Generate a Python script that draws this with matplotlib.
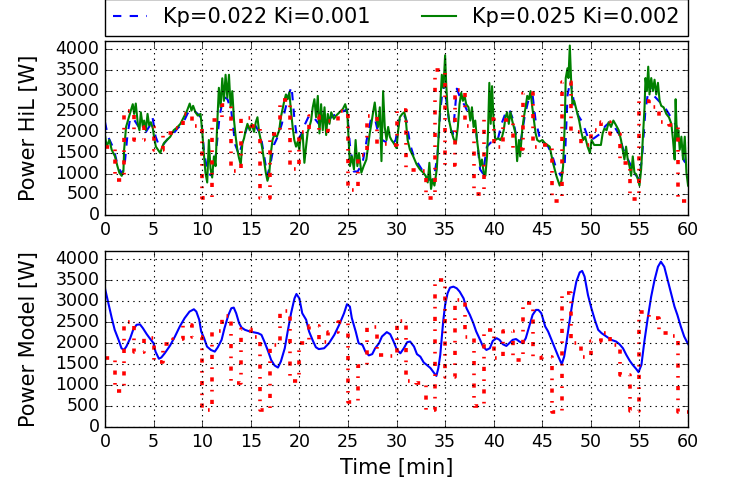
import matplotlib
matplotlib.use('Agg')
import matplotlib.pyplot as plt
import numpy as np

plt.style.use('classic')
plt.rcParams['lines.scale_dashes'] = False

# reference power demand, one level per minute (step signal)
ref_t = np.arange(0, 61)
ref_p = [1650, 850, 2500, 1800, 2130, 1560, 1970, 2100, 2440, 2150,
         400, 2300, 2650, 1060, 2330, 2150, 400, 1950, 2780, 1100,
         2000, 2400, 2030, 2270, 2500, 600, 1450, 2380, 1720, 1700,
         2540, 1090, 1060, 400, 3500, 1200, 3020, 2150, 500, 2320,
         1650, 2300, 1600, 2950, 1650, 1680, 350, 3200, 2000, 1680,
         2050, 2250, 1950, 1250, 380, 2750, 2600, 2250, 2180, 350, 350]

# HiL run, Kp=0.022 Ki=0.001
hil1_t = [0, 0.3, 0.7, 1.0, 1.3, 1.7, 2.0, 2.3, 2.6, 3.0, 3.4, 3.8, 4.2, 4.6, 4.9,
          5.2, 5.6, 6.0, 6.5, 7.0, 7.5, 8.0, 8.5, 9.0, 9.5, 9.9, 10.2, 10.6, 11.0,
          11.4, 11.8, 12.2, 12.6, 13.0, 13.4, 13.8, 14.2, 14.6, 15.0, 15.5, 16.0,
          16.4, 16.7, 17.0, 17.4, 17.8, 18.2, 18.6, 18.9, 19.2, 19.5, 19.8, 20.2,
          20.6, 21.0, 21.5, 22.0, 22.5, 23.0, 23.5, 24.0, 24.5, 24.9, 25.2, 25.6,
          26.0, 26.5, 27.0, 27.4, 27.8, 28.2, 28.6, 29.0, 29.5, 29.9, 30.3, 30.7,
          31.0, 31.4, 31.8, 32.2, 32.6, 33.0, 33.4, 33.8, 34.2, 34.5, 34.8, 35.1,
          35.5, 35.8, 36.2, 36.6, 37.0, 37.4, 37.8, 38.2, 38.6, 38.9, 39.3, 39.7,
          40.0, 40.4, 40.8, 41.2, 41.6, 42.0, 42.4, 42.8, 43.2, 43.6, 44.0, 44.3,
          44.7, 45.2, 45.6, 46.0, 46.4, 46.9, 47.3, 47.6, 47.9, 48.3, 48.7, 49.1,
          49.5, 49.8, 50.3, 50.9, 51.5, 52.0, 52.5, 52.9, 53.3, 53.7, 54.1, 54.5,
          55.0, 55.3, 55.6, 56.0, 56.4, 56.8, 57.2, 57.6, 58.0, 58.4, 58.8, 59.2,
          59.6, 60.0]
hil1_p = [2250, 1900, 1700, 1500, 1200, 1000, 1150, 1900, 2350, 2300, 2150, 2100, 2000, 2150, 2350,
          1900, 1650, 1700, 1850, 1950, 2100, 2200, 2450, 2550, 2450, 2350, 1500, 1000, 950,
          1450, 2400, 2850, 2800, 2500, 1700, 1450, 1800, 2100, 2200, 2150, 1950,
          1400, 950, 1200, 1700, 1900, 2200, 2600, 2900, 3100, 2300, 1800, 1950,
          2200, 2400, 2350, 2200, 2250, 2300, 2400, 2450, 2500, 2550, 1700, 1050,
          1050, 1250, 1900, 2350, 2300, 1900, 1800, 1750, 1700, 1800, 2300, 2450,
          2300, 1700, 1400, 1250, 1100, 1000, 850, 850, 1400, 2500, 3150, 2800,
          2100, 1950, 3050, 2800, 2650, 2450, 2350, 2000, 1100, 1000, 1650, 1750,
          1750, 1800, 2200, 2450, 2550, 2300, 1800, 1800, 2400, 2800, 2900, 2300,
          1900, 1750, 1650, 1450, 1150, 950, 1200, 2900, 3250, 2650, 2400, 2250,
          2000, 1800, 1850, 1950, 2150, 2250, 2100, 1950, 1600, 1400, 1200, 1000,
          850, 1500, 2500, 3150, 2900, 2800, 2700, 2600, 2450, 2300, 2150, 1700,
          1300, 1200]

# HiL run, Kp=0.025 Ki=0.002
hil2_t = [0.0, 0.17, 0.45, 0.69, 1.03, 1.28, 1.48, 1.72, 1.90, 1.97, 2.17, 2.41, 2.66, 2.86,
          3.0, 3.17, 3.38, 3.55, 3.69, 3.90, 4.03, 4.21, 4.38, 4.55, 4.72, 4.93, 5.07,
          5.24, 5.45, 5.69, 5.90, 6.10, 6.38, 6.72, 7.07, 7.41, 7.76, 8.10, 8.45, 8.72,
          8.90, 9.07, 9.31, 9.55, 9.83, 10.0, 10.17, 10.34, 10.52, 10.69, 10.86, 11.03,
          11.21, 11.38, 11.55, 11.72, 11.90, 12.07, 12.24, 12.41, 12.59, 12.76, 12.93,
          13.10, 13.28, 13.45, 13.62, 13.79, 13.97, 14.14, 14.31, 14.48, 14.66, 14.90,
          15.10, 15.34, 15.52, 15.69, 15.86, 16.03, 16.21, 16.38, 16.55, 16.72, 16.90,
          17.07, 17.24, 17.41, 17.69, 17.93, 18.10, 18.28, 18.45, 18.62, 18.79, 18.97,
          19.14, 19.31, 19.48, 19.66, 19.83, 20.0,
          20.10, 20.34, 20.52, 20.69, 20.86, 21.03, 21.21, 21.38, 21.55, 21.72, 21.90,
          22.07, 22.24, 22.41, 22.59, 22.76, 22.93, 23.10, 23.28, 23.55, 23.79, 24.14,
          24.48, 24.72, 24.93, 25.07, 25.21, 25.41, 25.62, 25.79, 25.97, 26.14, 26.38,
          26.62, 26.90, 27.07, 27.24, 27.41, 27.59, 27.76, 27.93, 28.10, 28.28, 28.45,
          28.62, 28.79, 28.97, 29.14, 29.31, 29.48, 29.72, 30.0, 30.17, 30.34, 30.59,
          30.79, 30.93, 31.14, 31.38, 31.72, 32.07, 32.41, 32.76, 33.0, 33.21, 33.38,
          33.55, 33.72, 33.90, 34.14, 34.31, 34.48, 34.66, 34.83, 35.0, 35.10, 35.24,
          35.41, 35.62, 35.86, 36.10, 36.31, 36.48, 36.66, 36.83, 37.0, 37.17, 37.41,
          37.59, 37.76, 37.93, 38.10, 38.28, 38.45, 38.62, 38.79, 38.97, 39.14, 39.31,
          39.41, 39.55, 39.69, 39.83, 40.0,
          40.17, 40.45, 40.69, 40.86, 41.03, 41.21, 41.38, 41.55, 41.72, 41.90, 42.07,
          42.24, 42.41, 42.59, 42.72, 42.93, 43.10, 43.28, 43.45, 43.62, 43.79, 43.97,
          44.14, 44.31, 44.48, 44.72, 45.0, 45.28, 45.52, 45.76, 45.97, 46.10, 46.28,
          46.45, 46.62, 46.79, 46.97, 47.14, 47.31, 47.41, 47.59, 47.69, 47.83, 47.97,
          48.10, 48.28, 48.45, 48.62, 48.79, 48.97, 49.21, 49.41, 49.66, 49.90, 50.07,
          50.34, 50.69, 51.03, 51.21, 51.38, 51.62, 51.83, 52.07, 52.31, 52.59, 52.86,
          53.10, 53.28, 53.45, 53.62, 53.79, 53.97, 54.14, 54.31, 54.48, 54.66, 54.83,
          55.0, 55.17, 55.34, 55.52, 55.62, 55.76, 55.90, 56.03, 56.21, 56.38, 56.55,
          56.72, 56.90, 57.07, 57.24, 57.48, 57.76, 58.03, 58.28, 58.45, 58.62, 58.72,
          58.86, 59.00, 59.14, 59.31, 59.48, 59.66, 59.83, 60.0]
hil2_p = [1930, 1650, 1810, 1575, 1415, 1180, 1020, 945, 1060, 1575, 2125, 2320, 2520, 2675,
          2440, 2690, 2200, 2045, 2480, 2125, 2280, 2045, 2440, 2165, 2240, 2085, 1850,
          1650, 1575, 1495, 1650, 1745, 1810, 1890, 2045, 2110, 2200, 2360, 2520, 2690,
          2520, 2635, 2480, 2400, 2440, 2045, 1495, 1020, 785, 1810, 1120, 905,
          1415, 1180, 2200, 3070, 2600, 3300, 2755, 3385, 2830, 3385, 2600,
          2990, 2280, 1890, 1575, 1375, 1220, 1730, 1850, 2045, 2200, 2045,
          2200, 2005, 2240, 2360, 2005, 1810, 1575, 1300, 1020, 825, 985,
          1495, 1810, 1930, 1890, 2045, 2360, 2560, 2755, 2910, 2795, 2950,
          2520, 2125, 1810, 1650, 1770, 1575,
          1810, 1970, 1260, 1650, 2005, 2125, 2280, 2600, 2795, 2360, 2875,
          1970, 2675, 2045, 2600, 1930, 2440, 2200, 2480, 2320, 2400, 2480,
          2560, 2675, 2480, 1810, 1180, 1415, 1100, 1810, 1180, 1495, 1020,
          1180, 1340, 1650, 1970, 2200, 2480, 2715, 2360, 2125, 2600, 1300,
          2990, 2125, 1810, 2125, 1890, 1810, 1730, 1615, 2045, 2360, 2440,
          2480, 2360, 1810, 1575, 1415, 1220, 1100, 1020, 945, 785, 1260,
          630, 865, 710, 1100, 1810, 2600, 3385, 3070, 3855, 3225, 2600,
          2280, 2045, 1850, 1730, 2125, 2675, 2950, 2755, 2875, 2675, 2600,
          2280, 2600, 2125, 2280, 1810, 1495, 1180, 1340, 1020, 945, 1415,
          1970, 3190, 2200, 3110, 2200,
          1810, 1850, 1810, 1890, 2045, 2360, 2480, 2200, 2480, 2280, 2125,
          1970, 1300, 1810, 1415, 2045, 2360, 2600, 2875, 2795, 2990, 2600,
          2280, 1970, 1810, 1770, 1810, 1730, 1690, 1650, 1415, 1260, 1100,
          945, 825, 710, 825, 1180, 2200, 3305, 3540, 3305, 4090, 3225,
          2675, 2755, 2600, 2440, 2280, 2045, 1810, 1890, 1650, 1495, 1810,
          1690, 1690, 1690, 1970, 2085, 2045, 2240, 2125, 2280, 2165, 2045,
          1810, 1575, 1340, 1650, 1340, 1180, 945, 1415, 1020, 985, 865,
          710, 1100, 1810, 2600, 3305, 2990, 3580, 2910, 3305, 2990, 3265,
          2910, 3190, 2755, 2635, 2600, 2440, 2360, 2200, 1810, 1340, 2795,
          1810, 2045, 1575, 1890, 1340, 1890, 1020, 710]

# model output
model_t = [0, 0.35, 0.7, 1.0, 1.4, 1.7, 1.95, 2.2, 2.6, 2.9, 3.25, 3.6, 3.9, 4.3, 4.6,
           5.0, 5.2, 5.55, 5.8, 6.15, 6.7, 7.2, 7.7, 8.2, 8.7, 9.15, 9.4, 9.7, 9.9,
           10.2, 10.5, 10.9, 11.3, 11.6, 12.0, 12.3, 12.7, 13.0, 13.25, 13.5, 13.8,
           14.05, 14.4, 14.9, 15.2, 15.75, 16.1, 16.4, 16.8, 17.1, 17.45, 17.8, 18.1,
           18.5, 18.8, 19.15, 19.5, 19.7, 20.0, 20.3, 20.7, 21.0, 21.4, 21.7, 22.0,
           22.55, 23.05, 23.6, 24.1, 24.6, 24.9, 25.2, 25.4, 25.8, 26.1, 26.5, 26.8,
           27.15, 27.5, 27.8, 28.2, 28.5, 29.0, 29.35, 29.7, 30.05, 30.4, 30.75,
           31.1, 31.4, 31.8, 32.1, 32.45, 32.8, 33.1, 33.5, 33.8, 34.1, 34.3, 34.5,
           34.65, 34.8, 35.0, 35.25, 35.5, 35.85, 36.2, 36.5, 36.9, 37.2, 37.55,
           37.9, 38.2, 38.6, 38.9, 39.25, 39.6, 39.9, 40.3, 40.6, 40.95, 41.3, 41.6,
           41.95, 42.3, 42.65, 43.0, 43.3, 43.7, 44.0, 44.35, 44.6, 44.9, 45.3,
           45.6, 45.95, 46.3, 46.65, 47.0, 47.25, 47.5, 47.85, 48.2, 48.5, 48.85,
           49.1, 49.35, 49.7, 50.05, 50.4, 50.75, 51.1, 51.6, 52.1, 52.6, 52.95,
           53.3, 53.65, 54.0, 54.3, 54.65, 54.9, 55.2, 55.5, 55.85, 56.2, 56.55,
           56.9, 57.2, 57.55, 57.9, 58.25, 58.6, 58.9, 59.25, 59.6, 60.0]
model_p = [3310, 2950, 2600, 2320, 2080, 1880, 1840, 1920, 2120, 2320, 2440, 2450, 2360, 2215, 2120,
           2000, 1800, 1630, 1660, 1760, 1945, 2160, 2400, 2600, 2755, 2810, 2755, 2560, 2280,
           2120, 1920, 1840, 1800, 1900, 2080, 2360, 2675, 2835, 2850, 2715, 2480,
           2375, 2320, 2280, 2265, 2240, 2200, 2040, 1800, 1600, 1470, 1420, 1565,
           1880, 2280, 2715, 3070, 3175, 3070, 2715, 2560, 2280, 2055, 1905, 1860,
           1880, 2000, 2200, 2440, 2715, 2930, 2875, 2600, 2280, 2000, 1960, 1800,
           1710, 1740, 1880, 2000, 2160, 2265, 2215, 2040, 1840, 1760, 1880,
           2025, 2040, 1920, 1740, 1680, 1540, 1485, 1405, 1310, 1220, 1405, 1720,
           2120, 2515, 2915, 3190, 3325, 3350, 3310, 3230, 3070, 2835, 2675,
           2480, 2280, 2080, 1920, 1840, 1880, 2055, 2120, 2080, 1975, 1935, 2000,
           2080, 2100, 2040, 2000, 2120, 2440, 2675, 2795, 2795, 2715, 2400,
           2280, 2080, 1880, 1680, 1500, 1680, 2040, 2600, 3110, 3470, 3690,
           3725, 3590, 3150, 2835, 2560, 2320, 2240, 2160, 2080, 2040, 1975,
           1880, 1720, 1580, 1485, 1390, 1310, 1485, 2040, 2600, 3110, 3510,
           3825, 3945, 3825, 3510, 3190, 2875, 2675, 2400, 2160, 1980]

ref_style = dict(color='r', lw=2.6, linestyle=(0, (3, 6, 1.2, 6)),
                 drawstyle='steps-post')

fig = plt.figure(figsize=(7.32, 4.92), dpi=100, facecolor='white')
ax1 = fig.add_axes([0.1434, 0.563, 0.7966, 0.3537])
ax2 = fig.add_axes([0.1434, 0.132, 0.7966, 0.3578])

ax1.plot(hil1_t, hil1_p, 'b--', lw=1.5, label='Kp=0.022 Ki=0.001')
ax1.plot(hil2_t, hil2_p, 'g-', lw=1.5, label='Kp=0.025 Ki=0.002')
ax1.plot(ref_t, ref_p, **ref_style)

ax2.plot(model_t, model_p, 'b-', lw=1.5)
ax2.plot(ref_t, ref_p, **ref_style)

for ax in (ax1, ax2):
    ax.set_xlim(0, 60)
    ax.set_ylim(0, 4200)
    ax.set_xticks(np.arange(0, 61, 5))
    ax.set_yticks(np.arange(0, 4001, 500))
    ax.grid(True, color='k', linestyle=':', linewidth=0.8)
    ax.tick_params(labelsize=12.5)

ax1.set_ylabel('Power HiL [W]', fontsize=15, labelpad=12)
ax2.set_ylabel('Power Model [W]', fontsize=15, labelpad=12)
ax2.set_xlabel('Time [min]', fontsize=15)

ax1.legend(bbox_to_anchor=(0., 1.03, 1., 0.102), loc=3, ncol=2,
           mode='expand', borderaxespad=0., fontsize=15, handlelength=1.6,
           numpoints=1)

fig.savefig('out.png', dpi=100, facecolor='white')
